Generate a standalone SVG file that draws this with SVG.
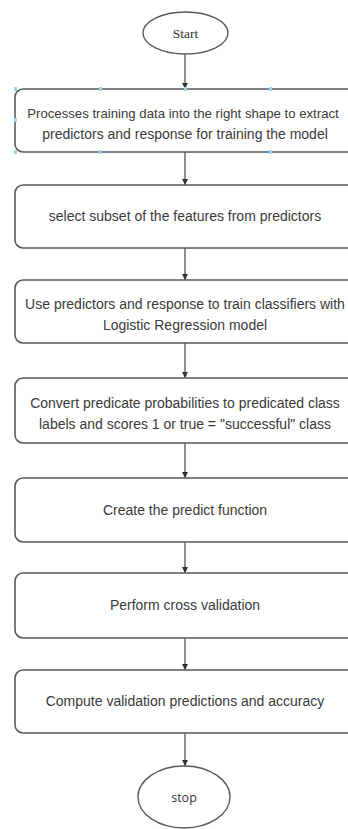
<svg xmlns="http://www.w3.org/2000/svg" width="348" height="829" viewBox="0 0 348 829">
<defs>
<style>
.box{fill:#fff;stroke:#5a5a5a;stroke-width:1.6}
.term{fill:#fff;stroke:#5a5a5a;stroke-width:1.4}
.t{font-family:"Liberation Sans",Arial,sans-serif;font-size:14px;fill:#3a3a3a;text-anchor:middle}
.conn{stroke:#555;stroke-width:1.3;fill:none;marker-end:url(#ah)}
.h{fill:#9fd3ee}
</style>
<marker id="ah" viewBox="0 0 8 8" refX="8" refY="4" markerWidth="6" markerHeight="6" markerUnits="userSpaceOnUse" orient="auto">
<path d="M0,0 L8,4 L0,8 z" fill="#333"/>
</marker>
</defs>
<rect width="348" height="829" fill="#fff"/>
<g id="connectors">
<line class="conn" x1="185" y1="54" x2="185" y2="89"/>
<line class="conn" x1="185" y1="152" x2="185" y2="185"/>
<line class="conn" x1="185" y1="248" x2="185" y2="280"/>
<line class="conn" x1="185" y1="343" x2="185" y2="378"/>
<line class="conn" x1="185" y1="443" x2="185" y2="478"/>
<line class="conn" x1="185" y1="542" x2="185" y2="573"/>
<line class="conn" x1="185" y1="638" x2="185" y2="670"/>
<line class="conn" x1="185" y1="733" x2="185" y2="766"/>
</g>
<g id="start">
<ellipse class="term" cx="185.5" cy="33" rx="42.5" ry="21"/>
<text x="185.5" y="38" font-family="Liberation Serif,Times New Roman,serif" font-size="13.5" fill="#333" text-anchor="middle">Start</text>
</g>
<g id="n1">
<rect class="box" x="15" y="89" width="340" height="63" rx="8"/>
<text class="t" x="183" y="118" style="font-size:13.2px">Processes training data into the right shape to extract</text>
<text class="t" x="185" y="139">predictors and response for training the model</text>
<rect class="h" x="14" y="87" width="3" height="4"/>
<rect class="h" x="99" y="87" width="3" height="4"/>
<rect class="h" x="184" y="87" width="3" height="4"/>
<rect class="h" x="269" y="87" width="3" height="4"/>
<rect class="h" x="14" y="118" width="3" height="4"/>
<rect class="h" x="14" y="150" width="3" height="4"/>
<rect class="h" x="99" y="150" width="3" height="4"/>
<rect class="h" x="269" y="150" width="3" height="4"/>
</g>
<g id="n2">
<rect class="box" x="15" y="185" width="340" height="63" rx="8"/>
<text class="t" x="185" y="221">select subset of the features from predictors</text>
</g>
<g id="n3">
<rect class="box" x="15" y="280" width="340" height="63" rx="8"/>
<text class="t" x="185" y="309">Use predictors and response to train classifiers with</text>
<text class="t" x="185" y="330">Logistic Regression model</text>
</g>
<g id="n4">
<rect class="box" x="15" y="378" width="340" height="65" rx="8"/>
<text class="t" x="185" y="408">Convert predicate probabilities to predicated class</text>
<text class="t" x="185" y="429">labels and scores 1 or true = "successful" class</text>
</g>
<g id="n5">
<rect class="box" x="15" y="478" width="340" height="64" rx="8"/>
<text class="t" x="185" y="515">Create the predict function</text>
</g>
<g id="n6">
<rect class="box" x="15" y="573" width="340" height="65" rx="8"/>
<text class="t" x="185" y="610">Perform cross validation</text>
</g>
<g id="n7">
<rect class="box" x="15" y="670" width="340" height="63" rx="8"/>
<text class="t" x="185" y="706">Compute validation predictions and accuracy</text>
</g>
<g id="stop">
<ellipse class="term" cx="184" cy="797" rx="46" ry="31"/>
<text x="184" y="802" font-family="Open Sans,Liberation Sans,sans-serif" font-size="12.5" fill="#333" text-anchor="middle">stop</text>
</g>
</svg>
